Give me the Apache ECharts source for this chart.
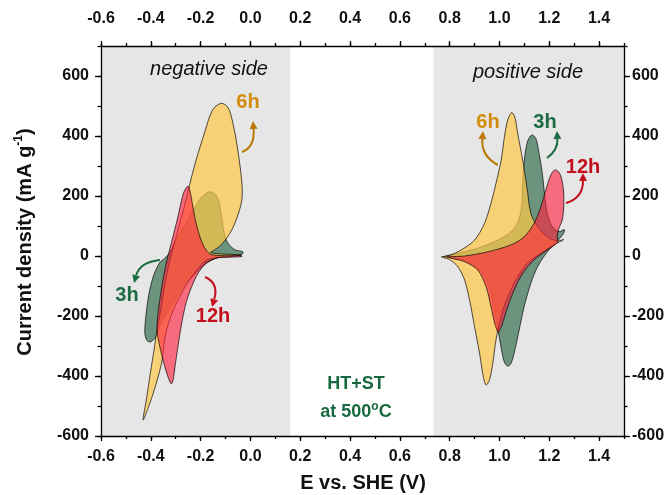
<!DOCTYPE html>
<html>
<head>
<meta charset="utf-8">
<script src="https://cdn.jsdelivr.net/npm/echarts@6/dist/echarts.min.js"></script>
<style>
  html, body { margin: 0; padding: 0; background: #fff; }
  #chart { width: 671px; height: 495px; }
</style>
</head>
<body>
<div id="chart"></div>
<script>
// Axis ranges and tick spacing
const xRange = [-0.6, 1.5];
const yRange = [-600, 700];
const xMajor = 0.2, xMinor = 0.1;
const yMajor = 200, yMinor = 100;

// Shaded potential windows [from, to] in V
const sideBands = [[-0.6, 0.16], [0.735, 1.5]];

// CV loops, [E (V), current density (mA/g)] — negative electrode side
const neg3h = [
  [-0.030, 14], [-0.060, 20], [-0.078, 31], [-0.094, 48], [-0.106, 80], [-0.116, 131], [-0.126, 180],
  [-0.142, 206], [-0.165, 214], [-0.185, 205], [-0.205, 187], [-0.238, 140], [-0.270, 95], [-0.300, 50],
  [-0.325, 10], [-0.345, -8], [-0.364, -22], [-0.388, -63], [-0.407, -124], [-0.420, -202], [-0.424, -258],
  [-0.415, -282], [-0.400, -286], [-0.380, -270], [-0.364, -235], [-0.330, -185], [-0.290, -130],
  [-0.250, -85], [-0.210, -48], [-0.178, -24], [-0.140, -8], [-0.090, 2], [-0.034, 6]
];
const neg6h = [
  [-0.431, -547], [-0.418, -480], [-0.402, -391], [-0.387, -313], [-0.376, -250], [-0.360, -180],
  [-0.345, -100], [-0.325, -20], [-0.300, 60], [-0.270, 150], [-0.245, 235], [-0.218, 320], [-0.185, 409],
  [-0.152, 487], [-0.118, 509], [-0.095, 500], [-0.080, 475], [-0.060, 400], [-0.045, 320], [-0.034, 240],
  [-0.034, 190], [-0.045, 150], [-0.062, 110], [-0.085, 72], [-0.118, 37], [-0.145, 20], [-0.160, 12],
  [-0.120, 7], [-0.060, 5], [-0.035, 3], [-0.070, -1], [-0.120, -4], [-0.160, -10], [-0.185, -19],
  [-0.245, -80], [-0.291, -147], [-0.325, -213], [-0.345, -280], [-0.355, -350], [-0.378, -424], [-0.404, -491]
];
const neg12h = [
  [-0.034, -2], [-0.080, -4], [-0.138, -7], [-0.185, -30], [-0.218, -69], [-0.251, -136], [-0.271, -202],
  [-0.287, -280], [-0.301, -358], [-0.311, -415], [-0.318, -426], [-0.330, -405], [-0.344, -369],
  [-0.364, -302], [-0.375, -247], [-0.371, -191], [-0.358, -113], [-0.341, -35], [-0.318, 42], [-0.291, 131],
  [-0.269, 209], [-0.251, 233], [-0.242, 214], [-0.231, 164], [-0.218, 109], [-0.198, 53], [-0.178, 20],
  [-0.158, 5], [-0.100, 1], [-0.040, 1]
];

// CV loops — positive electrode side
const pos3h = [
  [0.775, -3], [0.833, 9], [0.913, 26], [0.993, 53], [1.046, 81], [1.075, 115], [1.090, 170], [1.093, 240],
  [1.100, 320], [1.112, 380], [1.129, 403], [1.146, 392], [1.159, 342], [1.172, 276], [1.182, 198],
  [1.192, 142], [1.212, 98], [1.239, 81], [1.260, 88], [1.258, 76], [1.226, 44], [1.192, 14], [1.153, -36],
  [1.126, -91], [1.099, -169], [1.079, -247], [1.059, -324], [1.045, -360], [1.033, -367], [1.020, -355],
  [1.010, -320], [0.998, -265], [0.984, -200], [0.965, -124], [0.940, -69], [0.886, -24], [0.820, -8]
];
const pos6h = [
  [0.767, -3], [0.793, 0], [0.846, 20], [0.900, 53], [0.940, 109], [0.966, 176], [0.986, 242], [1.007, 320],
  [1.020, 398], [1.033, 453], [1.049, 478], [1.062, 462], [1.073, 409], [1.093, 320], [1.110, 231],
  [1.126, 142], [1.153, 98], [1.192, 64], [1.232, 50], [1.258, 55], [1.219, 37], [1.166, 9], [1.113, -24],
  [1.073, -69], [1.033, -136], [1.006, -202], [0.986, -280], [0.973, -358], [0.960, -413], [0.946, -430],
  [0.935, -402], [0.920, -324], [0.900, -236], [0.880, -147], [0.860, -80], [0.833, -36], [0.800, -12]
];
const pos12h = [
  [0.790, -3], [0.860, 0], [0.953, 14], [1.046, 37], [1.099, 64], [1.139, 109], [1.166, 164], [1.186, 220],
  [1.206, 270], [1.222, 287], [1.237, 281], [1.248, 262], [1.257, 220], [1.258, 164], [1.252, 120],
  [1.239, 93], [1.232, 70], [1.232, 45], [1.192, 20], [1.139, -13], [1.093, -58], [1.059, -113],
  [1.033, -169], [1.010, -230], [0.995, -253], [0.982, -228], [0.966, -169], [0.946, -102], [0.913, -47],
  [0.860, -19], [0.810, -8]
];

// Fill colours per heat-treatment time
const fill3h = 'rgba(30, 95, 60, 0.62)';
const fill6h = 'rgba(255, 200, 70, 0.70)';
const fill12h = 'rgba(255, 30, 60, 0.62)';
const c3h = '#1d6b43', c6h = '#d18c0c', c12h = '#c40f1c';
const arrow6h = '#b97a06';

const FONT = '"Liberation Sans", Arial, Helvetica, sans-serif';

function loopSeries(name, pts, fill) {
  return {
    type: 'custom',
    name: name,
    coordinateSystem: 'cartesian2d',
    xAxisIndex: 0,
    yAxisIndex: 0,
    data: pts,
    encode: { x: 0, y: 1 },
    clip: true,
    silent: true,
    renderItem: function (params, api) {
      if (params.dataIndex !== 0) return null;
      const points = pts.map(function (p) { return api.coord(p); });
      return {
        type: 'polygon',
        shape: { points: points, smooth: 0.3 },
        style: { fill: fill, stroke: 'rgba(0,0,0,0.85)', lineWidth: 0.8 }
      };
    }
  };
}

const bandSeries = {
  type: 'custom',
  coordinateSystem: 'cartesian2d',
  xAxisIndex: 0,
  yAxisIndex: 0,
  data: sideBands,
  encode: { x: [0, 1] },
  silent: true,
  z: 0,
  renderItem: function (params, api) {
    const a = api.coord([api.value(0), yRange[1]]);
    const b = api.coord([api.value(1), yRange[0]]);
    return {
      type: 'rect',
      shape: { x: a[0], y: a[1], width: b[0] - a[0], height: b[1] - a[1] },
      style: { fill: '#e6e6e6' }
    };
  }
};

const tickLabel = { fontFamily: FONT, fontWeight: 'bold', fontSize: 16, color: '#111' };
const lineStyle = { color: '#000', width: 1.3 };

function xAxisMajor(pos, margin) {
  return {
    type: 'value', position: pos, min: xRange[0], max: xRange[1], interval: xMajor,
    axisLine: { show: true, onZero: false, lineStyle: lineStyle },
    axisTick: { show: true, length: 5, lineStyle: lineStyle },
    axisLabel: Object.assign({}, tickLabel, {
      margin: margin, showMaxLabel: false,
      formatter: function (v) { return (Math.abs(v) < 1e-9 ? 0 : v).toFixed(1); }
    }),
    splitLine: { show: false }
  };
}
function xAxisMinor(pos) {
  return {
    type: 'value', position: pos, min: xRange[0], max: xRange[1], interval: xMinor,
    axisLine: { show: false, onZero: false },
    axisTick: { show: true, length: 3, lineStyle: lineStyle },
    axisLabel: { show: false }, splitLine: { show: false }
  };
}
function yAxisMajor(pos, margin) {
  return {
    type: 'value', position: pos, min: yRange[0], max: yRange[1], interval: yMajor,
    axisLine: { show: true, onZero: false, lineStyle: lineStyle },
    axisTick: { show: true, length: 6, lineStyle: lineStyle },
    axisLabel: Object.assign({}, tickLabel, { margin: margin, showMaxLabel: false }),
    splitLine: { show: false }
  };
}
function yAxisMinor(pos) {
  return {
    type: 'value', position: pos, min: yRange[0], max: yRange[1], interval: yMinor,
    axisLine: { show: false, onZero: false },
    axisTick: { show: true, length: 3.5, lineStyle: lineStyle },
    axisLabel: { show: false }, splitLine: { show: false }
  };
}

function txt(text, x, y, size, color, weight, style) {
  return {
    type: 'text', z: 100, silent: true,
    style: {
      text: text, x: x, y: y, fill: color,
      fontFamily: FONT, fontSize: size, fontWeight: weight || 'bold', fontStyle: style || 'normal',
      align: 'center', verticalAlign: 'middle', textAlign: 'center', textVerticalAlign: 'middle'
    }
  };
}

function arrow(x0, y0, cx, cy, x1, y1, color) {
  const ang = Math.atan2(y1 - cy, x1 - cx);
  const L = 8, W = 4;
  const bx = x1 - L * Math.cos(ang), by = y1 - L * Math.sin(ang);
  const nx = -Math.sin(ang) * W, ny = Math.cos(ang) * W;
  return [
    { type: 'bezierCurve', z: 100, silent: true,
      shape: { x1: x0, y1: y0, cpx1: cx, cpy1: cy, x2: bx, y2: by },
      style: { stroke: color, lineWidth: 2, fill: 'none' } },
    { type: 'polygon', z: 100, silent: true,
      shape: { points: [[x1, y1], [bx + nx, by + ny], [bx - nx, by - ny]] },
      style: { fill: color } }
  ];
}

const graphics = [
  txt('negative side', 209, 69, 20, '#111', 'normal', 'italic'),
  txt('positive side', 528, 72, 20, '#111', 'normal', 'italic'),
  txt('6h', 248, 102, 20, c6h), txt('3h', 127, 295, 20, c3h), txt('12h', 213, 316, 20, c12h),
  txt('6h', 488, 122, 20, c6h), txt('3h', 545, 122, 20, c3h), txt('12h', 583, 167, 20, c12h),
  txt('HT+ST', 356, 384, 18, '#17693f'),
  {
    type: 'text', z: 100, silent: true,
    style: {
      text: '{a|at 500}{s|o}{a|C}', x: 356, y: 412,
      align: 'center', verticalAlign: 'middle', textAlign: 'center', textVerticalAlign: 'middle',
      rich: {
        a: { fontFamily: FONT, fontSize: 18, fontWeight: 'bold', fill: '#17693f', color: '#17693f', lineHeight: 22 },
        s: { fontFamily: FONT, fontSize: 12, fontWeight: 'bold', fill: '#17693f', color: '#17693f', verticalAlign: 'top', lineHeight: 22, padding: [0, 0, 8, 0] }
      }
    }
  },
  // axis titles
  txt('E vs. SHE (V)', 363, 483, 20, '#111'),
  {
    type: 'text', z: 100, silent: true, x: 25, y: 242, rotation: Math.PI / 2,
    style: {
      text: '{a|Current density (mA g}{s|-1}{a|)}', x: 0, y: 0,
      align: 'center', verticalAlign: 'middle', textAlign: 'center', textVerticalAlign: 'middle',
      rich: {
        a: { fontFamily: FONT, fontSize: 20, fontWeight: 'bold', fill: '#111', color: '#111', lineHeight: 24 },
        s: { fontFamily: FONT, fontSize: 12, fontWeight: 'bold', fill: '#111', color: '#111', verticalAlign: 'top', lineHeight: 24, padding: [0, 0, 9, 0] }
      }
    }
  }
].concat(
  arrow(242, 152, 255, 147, 253, 121, arrow6h),
  arrow(160, 260, 140, 262, 134, 283, c3h),
  arrow(205, 277, 219, 283, 212, 307, c12h),
  arrow(498, 165, 481, 156, 483, 131, arrow6h),
  arrow(547, 158, 558, 150, 557, 131, c3h),
  arrow(566, 203, 583, 198, 583, 173, c12h)
);

const option = {
  backgroundColor: '#ffffff',
  animation: false,
  grid: { left: 101, right: 47, top: 46, bottom: 59, containLabel: false },
  xAxis: [xAxisMajor('bottom', 13), xAxisMajor('top', 19), xAxisMinor('bottom'), xAxisMinor('top')],
  yAxis: [yAxisMajor('left', 12), yAxisMajor('right', 8), yAxisMinor('left'), yAxisMinor('right')],
  series: [
    bandSeries,
    loopSeries('3h negative', neg3h, fill3h),
    loopSeries('3h positive', pos3h, fill3h),
    loopSeries('6h negative', neg6h, fill6h),
    loopSeries('6h positive', pos6h, fill6h),
    loopSeries('12h negative', neg12h, fill12h),
    loopSeries('12h positive', pos12h, fill12h)
  ],
  graphic: graphics
};

const chart = echarts.init(document.getElementById('chart'), null, { renderer: 'canvas' });
chart.setOption(option);
</script>
</body>
</html>
